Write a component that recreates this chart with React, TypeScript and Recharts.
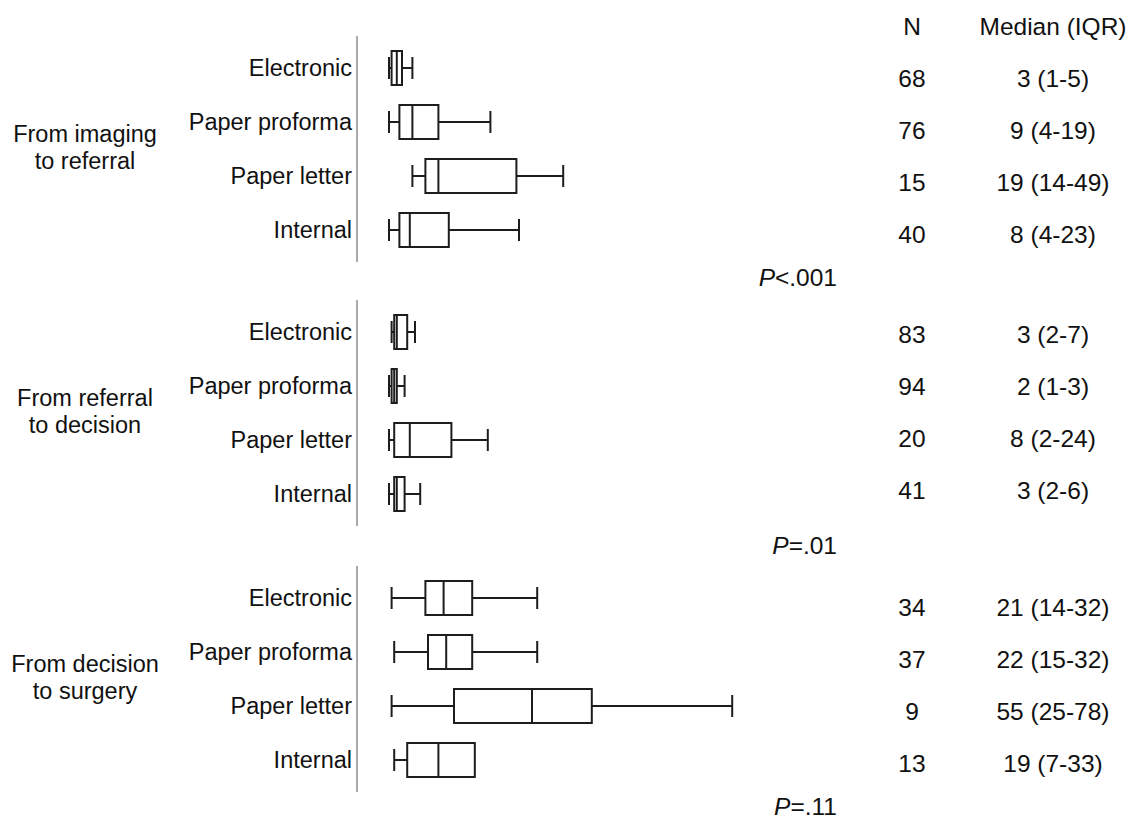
import React from 'react';
import { ComposedChart, Bar, XAxis, YAxis } from 'recharts';

// ---------- data ----------
const categories = ['Electronic', 'Paper proforma', 'Paper letter', 'Internal'];
const groupTitles = [
  ['From imaging', 'to referral'],
  ['From referral', 'to decision'],
  ['From decision', 'to surgery'],
];

// each entry: [min, q1, median, q3, max] (days)
const imagingToReferral = [
  [0, 1, 3, 5, 9],
  [0, 4, 9, 19, 39],
  [9, 14, 19, 49, 67],
  [0, 4, 8, 23, 50],
];
const referralToDecision = [
  [1, 2, 3, 7, 10],
  [0, 1, 2, 3, 6],
  [0, 2, 8, 24, 38],
  [0, 2, 3, 6, 12],
];
const decisionToSurgery = [
  [1, 14, 21, 32, 57],
  [2, 15, 22, 32, 57],
  [1, 25, 55, 78, 132],
  [2, 7, 19, 33, 33],
];

const nImaging = [68, 76, 15, 40];
const nReferral = [83, 94, 20, 41];
const nDecision = [34, 37, 9, 13];

const medImaging = ['3 (1-5)', '9 (4-19)', '19 (14-49)', '8 (4-23)'];
const medReferral = ['3 (2-7)', '2 (1-3)', '8 (2-24)', '3 (2-6)'];
const medDecision = ['21 (14-32)', '22 (15-32)', '55 (25-78)', '19 (7-33)'];

const pValues = ['<.001', '=.01', '=.11'];
const tableHeaders = ['N', 'Median (IQR)'];

const groupStats = [imagingToReferral, referralToDecision, decisionToSurgery];
const groupN = [nImaging, nReferral, nDecision];
const groupMed = [medImaging, medReferral, medDecision];

// ---------- layout ----------
const FONT = '"Liberation Sans", Arial, Helvetica, sans-serif';
const LABEL_FS = 23.5;
const RIGHT_FS = 24.5;
const GROUP_TOPS = [36, 300, 566];
const CHART_W = 805;
const CHART_H = 226;
const AXIS_W = 357;
const TABLE_FIRST = [78, 334, 607];
const TABLE_STEP = 52;
const P_Y = [277, 545, 806];
const N_X = 912;
const MED_X = 1053;
const P_RIGHT = 837;
const TITLE_X = 85;
const TITLE_MID = 111;
const TITLE_GAP = 26.5;
const STROKE = '#1d1d1d';

const BoxShape = (props: any) => {
  const { x, y, width, height, payload } = props;
  if (!payload) return null;
  const { min, q1, med, q3, max } = payload;
  const k = max - min === 0 ? 0 : width / (max - min);
  const px = (v: number) => x + (v - min) * k;
  const cy = y + height / 2;
  const cap = 11;
  return (
    <g fill="none" stroke={STROKE} strokeWidth={2}>
      <line x1={px(min)} x2={px(q1)} y1={cy} y2={cy} />
      <line x1={px(q3)} x2={px(max)} y1={cy} y2={cy} />
      <line x1={px(min)} x2={px(min)} y1={cy - cap} y2={cy + cap} />
      {max > q3 && <line x1={px(max)} x2={px(max)} y1={cy - cap} y2={cy + cap} />}
      <rect x={px(q1)} y={y} width={px(q3) - px(q1)} height={height} fill="#fff" />
      <line x1={px(med)} x2={px(med)} y1={y} y2={y + height} />
    </g>
  );
};

const capText = (fs: number) => 0.358 * fs;

export default function App() {
  return (
    <div
      style={{
        position: 'absolute',
        left: 0,
        top: 0,
        width: 1141,
        height: 824,
        background: '#fff',
        overflow: 'hidden',
      }}
    >
      {groupStats.map((stats, gi) => {
        const data = categories.map((cat, i) => ({
          cat,
          min: stats[i][0],
          q1: stats[i][1],
          med: stats[i][2],
          q3: stats[i][3],
          max: stats[i][4],
          range: [stats[i][0], stats[i][4]],
        }));
        return (
          <div key={gi} style={{ position: 'absolute', left: 0, top: GROUP_TOPS[gi] }}>
            <ComposedChart
              width={CHART_W}
              height={CHART_H}
              data={data}
              layout="vertical"
              margin={{ top: 0, right: 0, bottom: 0, left: 0 }}
            >
              <XAxis type="number" domain={[0, 160]} hide padding={{ left: 32, right: 0 }} />
              <YAxis
                type="category"
                dataKey="cat"
                width={AXIS_W}
                padding={{ top: 5, bottom: 5 }}
                tickLine={false}
                tickSize={0}
                tickMargin={5}
                axisLine={{ stroke: '#555', strokeWidth: 1 }}
                tick={{ fill: '#111', fontSize: LABEL_FS, fontFamily: FONT }}
                interval={0}
              />
              <Bar
                dataKey="range"
                barSize={34}
                shape={<BoxShape />}
                isAnimationActive={false}
              />
            </ComposedChart>
          </div>
        );
      })}
      <svg
        width={1141}
        height={824}
        style={{ position: 'absolute', left: 0, top: 0, pointerEvents: 'none' }}
        fontFamily={FONT}
        fill="#111"
      >
        <text x={N_X} y={26 + capText(RIGHT_FS)} fontSize={RIGHT_FS} textAnchor="middle">
          {tableHeaders[0]}
        </text>
        <text x={MED_X} y={26 + capText(RIGHT_FS)} fontSize={RIGHT_FS} textAnchor="middle">
          {tableHeaders[1]}
        </text>
        {groupTitles.map((lines, gi) =>
          lines.map((ln, li) => (
            <text
              key={'t' + gi + li}
              x={TITLE_X}
              y={
                GROUP_TOPS[gi] +
                TITLE_MID +
                (li - (lines.length - 1) / 2) * TITLE_GAP +
                capText(LABEL_FS)
              }
              fontSize={LABEL_FS}
              textAnchor="middle"
            >
              {ln}
            </text>
          ))
        )}
        {groupN.map((ns, gi) =>
          ns.map((n, i) => (
            <text
              key={'n' + gi + i}
              x={N_X}
              y={TABLE_FIRST[gi] + i * TABLE_STEP + capText(RIGHT_FS)}
              fontSize={RIGHT_FS}
              textAnchor="middle"
            >
              {n}
            </text>
          ))
        )}
        {groupMed.map((ms, gi) =>
          ms.map((m, i) => (
            <text
              key={'m' + gi + i}
              x={MED_X}
              y={TABLE_FIRST[gi] + i * TABLE_STEP + capText(RIGHT_FS)}
              fontSize={RIGHT_FS}
              textAnchor="middle"
            >
              {m}
            </text>
          ))
        )}
        {pValues.map((p, gi) => (
          <text
            key={'p' + gi}
            x={P_RIGHT}
            y={P_Y[gi] + capText(RIGHT_FS)}
            fontSize={RIGHT_FS}
            textAnchor="end"
          >
            <tspan fontStyle="italic">P</tspan>
            {p}
          </text>
        ))}
      </svg>
    </div>
  );
}
